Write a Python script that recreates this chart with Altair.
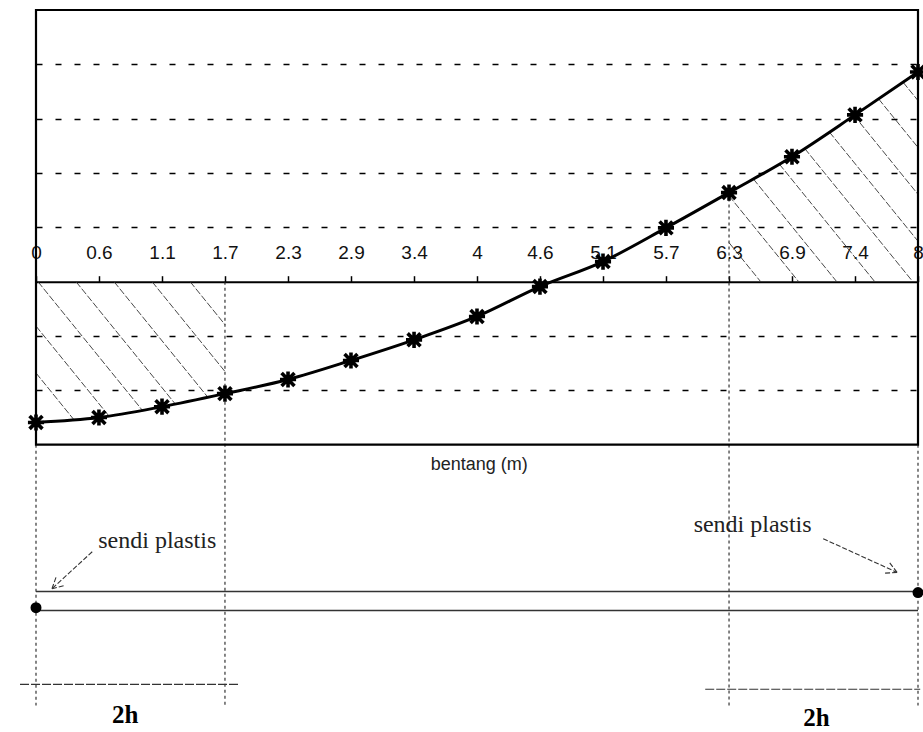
import altair as alt
import pandas as pd
import numpy as np

# ---------------- data ----------------
x_labels = ["0", "0.6", "1.1", "1.7", "2.3", "2.9", "3.4", "4", "4.6",
            "5.1", "5.7", "6.3", "6.9", "7.4", "8"]
x_pos = [0.0, 0.571, 1.143, 1.714, 2.286, 2.857, 3.429, 4.0, 4.571,
         5.143, 5.714, 6.286, 6.857, 7.429, 8.0]
moment = [-2.59, -2.50, -2.30, -2.06, -1.80, -1.45, -1.07, -0.64, -0.09,
          0.37, 0.99, 1.64, 2.30, 3.07, 3.86]
grid_values = [-2, -1, 1, 2, 3, 4]

hinge_left_idx = 3      # 2h from left support (1.7 m)
hinge_right_idx = 11    # 2h from right support (6.3 m)

axis_title = "bentang (m)"
hinge_label = "sendi plastis"
zone_label = "2h"

# annotation anchors (data units)
title_pos = (4.02, -3.37)
hinge_text_left = (1.10, -4.78)
hinge_text_right = (6.50, -4.47)
arrow_left = (0.51, -4.97, 0.145, -5.65)
arrow_right = (7.14, -4.73, 7.81, -5.35)
beam_top, beam_bottom = -5.70, -6.05
dot_left, dot_right = (0.0, -6.0), (8.0, -5.72)
dim_left = (-0.145, 1.85, -7.41)
dim_right = (6.07, 8.02, -7.50)
zone_text_left = (0.81, -7.98)
zone_text_right = (7.08, -8.03)
guide_bottom = -7.8

# ---------------- layout ----------------
Y_MIN, Y_MAX = -8.25, 5.0
FRAME_BOTTOM = -3.0
W, H = 882, 720
kx = W / (x_pos[-1] - x_pos[0])
ky = H / (Y_MAX - Y_MIN)
zero_px = H * Y_MAX / (Y_MAX - Y_MIN)

xscale = alt.Scale(domain=[x_pos[0], x_pos[-1]], nice=False, zero=False)
yscale = alt.Scale(domain=[Y_MIN, Y_MAX], nice=False, zero=False)

label_expr = ("[" + ",".join("'%s'" % l for l in x_labels) + "][indexof(["
              + ",".join(repr(v) for v in x_pos) + "], datum.value)]")

x_axis = alt.Axis(orient="top", offset=-zero_px, values=x_pos, labelExpr=label_expr,
                  labelFlush=False, labelOverlap=False, grid=False,
                  domainColor="black", domainWidth=2, tickColor="black",
                  tickSize=6, tickWidth=1.5, labelFont="Liberation Sans",
                  labelFontSize=19, labelColor="#111", labelPadding=13, title=None)
y_axis = alt.Axis(values=grid_values, grid=True, gridDash=[6, 13], gridColor="black",
                  gridWidth=1.4, labels=False, ticks=False, domain=False, title=None)

X = alt.X("x:Q", scale=xscale, axis=x_axis)
Y = alt.Y("y:Q", scale=yscale, axis=y_axis)
X2 = alt.X2("x2:Q")
Y2 = alt.Y2("y2:Q")

# ---------------- hatching derived from curve ----------------
s = 2.5
spacing = 0.345
xs = np.linspace(x_pos[0], x_pos[-1], 8001)
fx = np.interp(xs, x_pos, moment)
segs = []
for k in range(-12, 32):
    c = 0.018 + spacing * k
    yy = -s * (xs - c)
    left = (xs <= x_pos[hinge_left_idx]) & (yy <= 0) & (yy >= fx)
    right = (xs >= x_pos[hinge_right_idx]) & (yy >= 0) & (yy <= fx)
    for m in (left, right):
        idx = np.nonzero(m)[0]
        if len(idx) > 1:
            segs.append(dict(x=xs[idx[0]], y=yy[idx[0]], x2=xs[idx[-1]], y2=yy[idx[-1]]))
hatch_df = pd.DataFrame(segs)

curve_df = pd.DataFrame({"x": x_pos, "y": moment})

frame_df = pd.DataFrame([dict(x=x_pos[0], x2=x_pos[-1], y=FRAME_BOTTOM, y2=Y_MAX)])

guides_df = pd.DataFrame([
    dict(x=x_pos[0], y=FRAME_BOTTOM, y2=guide_bottom),
    dict(x=x_pos[hinge_left_idx], y=0.0, y2=guide_bottom),
    dict(x=x_pos[hinge_right_idx], y=moment[hinge_right_idx], y2=guide_bottom),
    dict(x=x_pos[-1], y=FRAME_BOTTOM, y2=guide_bottom),
])

beam_df = pd.DataFrame([
    dict(x=x_pos[0], x2=x_pos[-1], y=beam_top, y2=beam_top),
    dict(x=x_pos[0], x2=x_pos[-1], y=beam_bottom, y2=beam_bottom),
])

dims_df = pd.DataFrame([
    dict(x=dim_left[0], x2=dim_left[1], y=dim_left[2], y2=dim_left[2]),
    dict(x=dim_right[0], x2=dim_right[1], y=dim_right[2], y2=dim_right[2]),
])

dots_df = pd.DataFrame([dict(x=dot_left[0], y=dot_left[1]), dict(x=dot_right[0], y=dot_right[1])])

# arrows with open heads (barbs computed in pixel space)
arrow_rows = []
for (x0, y0, x1, y1) in (arrow_left, arrow_right):
    arrow_rows.append(dict(x=x0, y=y0, x2=x1, y2=y1))
    dsx, dsy = (x1 - x0) * kx, -(y1 - y0) * ky
    n = np.hypot(dsx, dsy)
    ux, uy = dsx / n, dsy / n
    for a in (np.radians(28), -np.radians(28)):
        rx = ux * np.cos(a) - uy * np.sin(a)
        ry = ux * np.sin(a) + uy * np.cos(a)
        bx = x1 - 13 * rx / kx
        by = y1 + 13 * ry / ky
        arrow_rows.append(dict(x=x1, y=y1, x2=bx, y2=by))
arrows_df = pd.DataFrame(arrow_rows)

title_df = pd.DataFrame([dict(x=title_pos[0], y=title_pos[1], t=axis_title)])
hinge_df = pd.DataFrame([
    dict(x=hinge_text_left[0], y=hinge_text_left[1], t=hinge_label),
    dict(x=hinge_text_right[0], y=hinge_text_right[1], t=hinge_label),
])
zone_df = pd.DataFrame([
    dict(x=zone_text_left[0], y=zone_text_left[1], t=zone_label),
    dict(x=zone_text_right[0], y=zone_text_right[1], t=zone_label),
])

# ---------------- layers ----------------
hatch = alt.Chart(hatch_df).mark_rule(color="#333", strokeWidth=0.9, strokeDash=[7, 2]).encode(
    x=X, y=Y, x2=X2, y2=Y2)
guides = alt.Chart(guides_df).mark_rule(color="#222", strokeWidth=1.1, strokeDash=[3, 3]).encode(
    x=X, y=Y, y2=Y2)
frame = alt.Chart(frame_df).mark_rect(fillOpacity=0, stroke="black", strokeWidth=2.2).encode(
    x=X, x2=X2, y=Y, y2=Y2)
curve = alt.Chart(curve_df).mark_line(color="black", strokeWidth=3, interpolate="monotone").encode(
    x=X, y=Y)
star_path = "M0,-1L0,1M-0.8,-0.8L0.8,0.8M-0.8,0.8L0.8,-0.8M-1,0L1,0"
stars = alt.Chart(curve_df).mark_point(shape=star_path, size=260, filled=False,
                                        stroke="black", strokeWidth=3.6, opacity=1).encode(x=X, y=Y)
beam = alt.Chart(beam_df).mark_rule(color="#333", strokeWidth=1.4).encode(x=X, x2=X2, y=Y, y2=Y2)
dims = alt.Chart(dims_df).mark_rule(color="#333", strokeWidth=1.2, strokeDash=[9, 2]).encode(
    x=X, x2=X2, y=Y, y2=Y2)
dots = alt.Chart(dots_df).mark_point(shape="circle", size=120, filled=True, color="black",
                                      opacity=1).encode(x=X, y=Y)
arrows = alt.Chart(arrows_df).mark_rule(color="#333", strokeWidth=1.1, strokeDash=[5, 2]).encode(
    x=X, x2=X2, y=Y, y2=Y2)
title_txt = alt.Chart(title_df).mark_text(font="Liberation Sans", fontSize=18, color="#222",
                                          baseline="middle").encode(x=X, y=Y, text="t:N")
hinge_txt = alt.Chart(hinge_df).mark_text(font="Liberation Serif", fontSize=24, color="#222",
                                          baseline="middle").encode(x=X, y=Y, text="t:N")
zone_txt = alt.Chart(zone_df).mark_text(font="Liberation Serif", fontSize=25, fontWeight="bold",
                                        color="black", baseline="middle").encode(x=X, y=Y, text="t:N")

chart = alt.layer(
    hatch, guides, beam, dims, arrows, frame, curve, stars, dots, title_txt, hinge_txt, zone_txt
).properties(
    width=W, height=H,
    autosize=alt.AutoSizeParams(type="none"),
    padding={"left": 36, "top": 10, "right": 5, "bottom": 2},
    background="white",
).configure_view(stroke=None).configure_axisX(
    labelFontSize=19, labelFont="Liberation Sans", labelColor="#111"
)

chart.save("out.html", embed_options={"renderer": "svg", "actions": False})
